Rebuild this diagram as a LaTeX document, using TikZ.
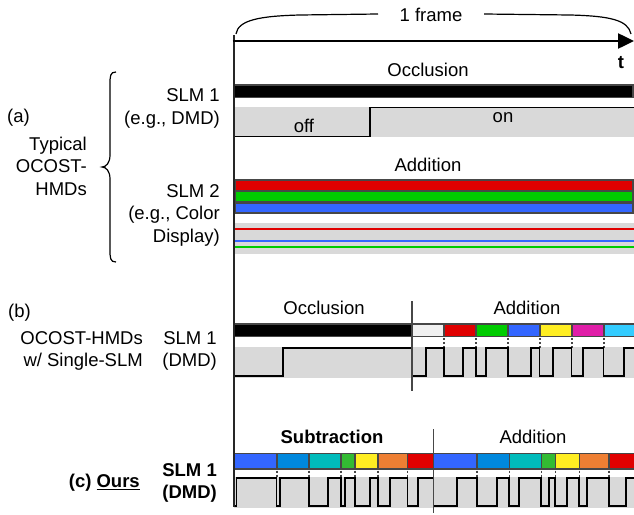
\documentclass[tikz,border=0pt]{standalone}
\usepackage{fontspec}
\setmainfont{Liberation Sans}
\usetikzlibrary{arrows.meta}
\definecolor{bordc}{HTML}{474747}
\definecolor{bandc}{HTML}{D9D9D9}
\definecolor{cred}{HTML}{E00000}
\definecolor{cgreen}{HTML}{00CC00}
\definecolor{cblue}{HTML}{3366FF}
\definecolor{cwhite}{HTML}{F0F0F0}
\definecolor{cyellow}{HTML}{FFEE22}
\definecolor{cmag}{HTML}{E01EA8}
\definecolor{ccyan}{HTML}{33CCFF}
\definecolor{cmidblue}{HTML}{0088DD}
\definecolor{cteal}{HTML}{00BBBB}
\definecolor{cgreentwo}{HTML}{33BB33}
\definecolor{corange}{HTML}{EE7F33}
\begin{document}
\begin{tikzpicture}[x=1pt,y=-1pt,
  font=\fontsize{18.5}{22.5}\selectfont,
  lbl/.style={inner sep=0pt, align=right, anchor=east},
  ttl/.style={inner sep=0pt},
  boldtext/.style={font=\fontsize{18.5}{22.5}\selectfont\bfseries},
  seg/.style={draw=bordc, line width=1.8pt},
  wave/.style={line width=1.8pt, line join=miter},
  tickmark/.style={draw=bordc, line width=1.2pt, dash pattern=on 2pt off 2pt},
  divider/.style={draw=bordc, line width=1.6pt},
  sigline/.style={line width=1.8pt}]
\useasboundingbox (0,0) rectangle (634,514);
\begin{scope}
\clip (0,0) rectangle (634,514);
% grey bands
\fill[bandc] (234,107) rectangle (634,137);
\fill[bandc] (234,222.5) rectangle (634,253.5);
\fill[bandc] (234,346.5) rectangle (634,377.5);
\fill[bandc] (234,476.5) rectangle (634,507.5);

% (a) SLM 1
\draw[seg, fill=black] (234,85) rectangle (633,97.5);
\draw[wave] (234,136.5) -- (370,136.5) -- (370,107.5) -- (634,107.5);

% (a) SLM 2
\fill[bordc] (234,178.5) rectangle (633.5,214);
\fill[cred] (235.5,181) rectangle (632,189.5);
\fill[cgreen] (235.5,192.3) rectangle (632,201);
\fill[cblue] (235.5,203.5) rectangle (632,212);
\draw[sigline, draw=cred] (234,229) -- (634,229);
\draw[sigline, draw=cblue] (234,241) -- (634,241);
\draw[sigline, draw=cgreen] (234,247) -- (634,247);

% (b)
\draw[seg, fill=black] (234,324) rectangle (412,336.5);
\draw[seg, fill=cwhite] (412,324) rectangle (444,336.5);
\draw[seg, fill=cred] (444,324) rectangle (476,336.5);
\draw[seg, fill=cgreen] (476,324) rectangle (508,336.5);
\draw[seg, fill=cblue] (508,324) rectangle (540,336.5);
\draw[seg, fill=cyellow] (540,324) rectangle (572,336.5);
\draw[seg, fill=cmag] (572,324) rectangle (604,336.5);
\draw[seg, fill=ccyan] (604,324) rectangle (640,336.5);
\foreach \x in {444,476,508,540,572,604}
  \draw[tickmark] (\x,338) -- (\x,348);
\draw[wave] (234,376) -- (282.7,376) -- (282.7,348.3) -- (412,348.3) -- (412,376)
  -- (425.7,376) -- (425.7,348.3) -- (444,348.3) -- (444,376)
  -- (463.3,376) -- (463.3,348.3) -- (476,348.3) -- (476,376)
  -- (485.7,376) -- (485.7,348.3) -- (507.7,348.3) -- (507.7,376)
  -- (530.7,376) -- (530.7,348.3) -- (539.5,348.3) -- (539.5,376)
  -- (553.3,376) -- (553.3,348.3) -- (571.5,348.3) -- (571.5,376)
  -- (582.7,376) -- (582.7,348.3) -- (603.5,348.3) -- (603.5,376)
  -- (624.3,376) -- (624.3,348.3) -- (640,348.3);

% (c)
\draw[seg, fill=cblue] (234,453.5) rectangle (277,469);
\draw[seg, fill=cmidblue] (277,453.5) rectangle (309,469);
\draw[seg, fill=cteal] (309,453.5) rectangle (341,469);
\draw[seg, fill=cgreentwo] (341,453.5) rectangle (355,469);
\draw[seg, fill=cyellow] (355,453.5) rectangle (378,469);
\draw[seg, fill=corange] (378,453.5) rectangle (407.5,469);
\draw[seg, fill=cred] (407.5,453.5) rectangle (433.5,469);
\draw[seg, fill=cblue] (433.5,453.5) rectangle (477,469);
\draw[seg, fill=cmidblue] (477,453.5) rectangle (509.5,469);
\draw[seg, fill=cteal] (509.5,453.5) rectangle (541.5,469);
\draw[seg, fill=cgreentwo] (541.5,453.5) rectangle (555.5,469);
\draw[seg, fill=cyellow] (555.5,453.5) rectangle (579.5,469);
\draw[seg, fill=corange] (579.5,453.5) rectangle (609,469);
\draw[seg, fill=cred] (609,453.5) rectangle (640,469);
\foreach \x in {277,309,341,355,378,407.5,477,509.5,541.5,555.5,579.5,609}
  \draw[tickmark] (\x,470.5) -- (\x,478);
\draw[wave] (234,505.7) -- (236.5,505.7) -- (236.5,478.3) -- (276.5,478.3) -- (276.5,505.7)
  -- (279.7,505.7) -- (279.7,478.3) -- (308.7,478.3) -- (308.7,505.7)
  -- (328,505.7) -- (328,478.3) -- (341.3,478.3) -- (341.3,505.7)
  -- (344.7,505.7) -- (344.7,478.3) -- (354.7,478.3) -- (354.7,505.7)
  -- (369.7,505.7) -- (369.7,478.3) -- (378,478.3) -- (378,505.7)
  -- (389.7,505.7) -- (389.7,478.3) -- (407.5,478.3) -- (407.5,505.7)
  -- (418,505.7) -- (418,478.3) -- (433.5,478.3) -- (433.5,505.7)
  -- (457.3,505.7) -- (457.3,478.3) -- (476.7,478.3) -- (476.7,505.7)
  -- (496.7,505.7) -- (496.7,478.3) -- (509.3,478.3) -- (509.3,505.7)
  -- (519,505.7) -- (519,478.3) -- (541.3,478.3) -- (541.3,505.7)
  -- (549,505.7) -- (549,478.3) -- (555.3,478.3) -- (555.3,505.7)
  -- (567.3,505.7) -- (567.3,478.3) -- (579.3,478.3) -- (579.3,505.7)
  -- (587.3,505.7) -- (587.3,478.3) -- (608.7,478.3) -- (608.7,505.7)
  -- (625.7,505.7) -- (625.7,478.3) -- (640,478.3);
\end{scope}

% dividers
\draw[divider] (412,301) -- (412,391);
\draw[divider] (433.5,429) -- (433.5,513);

% time axis
\draw[line width=2pt, black!85] (233.5,35) -- (233.5,507);
\draw[line width=2.5pt, -{Triangle[length=16pt,width=15pt]}] (232.5,41) -- (634,41);

% frame brace
\draw[line width=1.2pt] (236,34) .. controls (238,20) and (260,16) .. (300,15) -- (378,14);
\draw[line width=1.2pt] (484,14) -- (570,15) .. controls (610,16) and (628,20) .. (631,34);
\node[ttl] (frame) at (431,15) {1 frame};
\node[ttl, boldtext] (tlab) at (621,63) {t};

% section titles
\node[ttl] (occa) at (428,70) {Occlusion};
\node[ttl] (offl) at (304,126) {off};
\node[ttl] (onl) at (503,118) {on};
\node[ttl] (adda) at (428,165) {Addition};
\node[ttl] (occb) at (324,308) {Occlusion};
\node[ttl] (addb) at (527,308) {Addition};
\node[ttl, boldtext] (subc) at (332,437) {Subtraction};
\node[ttl] (addc) at (533,437) {Addition};

% left labels
\node[lbl] (slmonea) at (220,108.5) {SLM 1\\(e.g., DMD)};
\node[lbl] (slmtwoa) at (220,215) {SLM 2\\(e.g., Color\\Display)};
\node[ttl, anchor=west] (alab) at (7,118) {(a)};
\node[lbl] (typ) at (87,166) {Typical\\OCOST-\\HMDs};
\draw[line width=1.2pt] (116,72) .. controls (110,72) and (110,76) .. (110,85) -- (110,155)
  .. controls (110,163) and (106,167) .. (102,167)
  .. controls (106,167) and (110,171) .. (110,179) -- (110,249)
  .. controls (110,258) and (110,262) .. (116,262);
\node[ttl, anchor=west] (blab) at (8,313) {(b)};
\node[lbl] (bdesc) at (143,351) {OCOST-HMDs\\w/ Single-SLM};
\node[lbl] (slmoneb) at (217,351) {SLM 1\\(DMD)};
\node[lbl, boldtext] (cdesc) at (140,483) {(c) \underline{Ours}};
\node[lbl, boldtext] (slmonec) at (217,483) {SLM 1\\(DMD)};
\end{tikzpicture}
\end{document}
